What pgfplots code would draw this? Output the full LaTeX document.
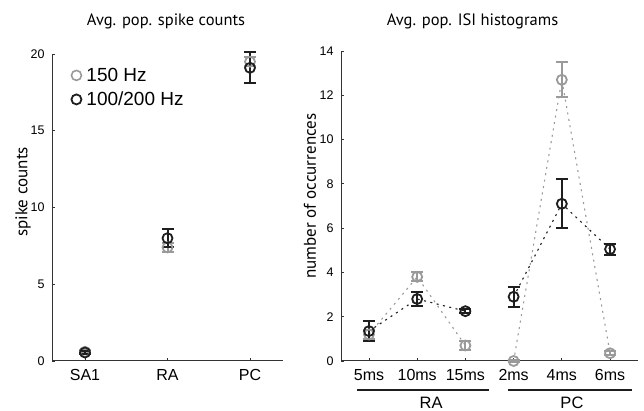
\documentclass[border=0pt]{standalone}
\usepackage{pgfplots}
\pgfplotsset{compat=1.18}
\usepackage{fontspec}
\setmainfont{Liberation Sans}
\newfontfamily\ptsans{PT Sans}
\definecolor{lgray}{HTML}{9A9A9A}
\definecolor{dblack}{HTML}{1E1E1E}
\definecolor{axc}{HTML}{333333}

\pgfplotstableread{
x y e
1 0.6 0.1
2 7.4 0.3
3 19.5 0.3
}\leftgray
\pgfplotstableread{
x y e
1 0.55 0.12
2 8.0 0.6
3 19.1 1.0
}\leftblack
\pgfplotstableread{
x y e
1 1.2 0.2
2 3.8 0.2
3 0.7 0.2
4 0.0 0.05
5 12.7 0.8
6 0.35 0.1
}\rightgray
\pgfplotstableread{
x y e
1 1.35 0.45
2 2.8 0.3
3 2.25 0.1
4 2.9 0.45
5 7.1 1.1
6 5.05 0.25
}\rightblack

\pgfplotsset{
  mystyle/.style={
    scale only axis, axis lines*=left, clip=false,
    axis line style={axc, line width=1pt},
    tick align=inside, major tick length=3pt,
    every tick/.style={axc, line width=0.8pt},
    /pgf/number format/assume math mode=true,
    yticklabel style={font=\fontsize{12.5}{14}\selectfont, xshift=-4pt},
    xticklabel style={font=\fontsize{16}{18}\selectfont, yshift=-5pt},
  },
  graypts/.style={forget plot, only marks, mark=o, mark size=5pt, color=lgray,
    mark options={lgray, line width=1.8pt},
    error bars/.cd, y dir=both, y explicit,
    error bar style={lgray, line width=2pt},
    error mark options={lgray, mark size=6pt, line width=2pt, rotate=90},
    /pgfplots/.cd},
  blackpts/.style={forget plot, only marks, mark=o, mark size=5pt, color=dblack,
    mark options={dblack, line width=1.8pt},
    error bars/.cd, y dir=both, y explicit,
    error bar style={dblack, line width=2pt},
    error mark options={dblack, mark size=6pt, line width=2pt, rotate=90},
    /pgfplots/.cd},
  dots/.style={forget plot, line width=1.1pt, dash pattern=on 2pt off 4.5pt},
}

\begin{document}
\begin{tikzpicture}[x=1pt,y=1pt]
\path[use as bounding box] (0,0) rectangle (644,411);

\begin{axis}[mystyle,
  at={(52pt,50pt)}, anchor=south west,
  width=231pt, height=307pt,
  xmin=0.6, xmax=3.4, ymin=0, ymax=20,
  xtick={1,2,3}, xticklabels={SA1,RA,PC},
  ytick={0,5,10,15,20},
  legend style={at={(0.066,0.968)}, anchor=north west, draw=none, fill=none,
    font=\fontsize{19}{22}\selectfont, row sep=5pt,
    legend cell align=left},
  legend image code/.code={\draw[mark repeat=2,mark phase=2] plot coordinates {(0pt,0pt)(6pt,0pt)(12pt,0pt)}; \path[draw=none,fill=none] (0pt,-0.1pt) rectangle (14pt,0.1pt);},
]
\addlegendimage{only marks, mark=o, mark size=5pt, lgray, mark options={line width=1.6pt}}
\addlegendentry{150 Hz}
\addlegendimage{only marks, mark=o, mark size=5pt, dblack, mark options={line width=1.8pt}}
\addlegendentry{100/200 Hz}
\addplot[graypts] table[x=x, y=y, y error=e] {\leftgray};
\addplot[blackpts] table[x=x, y=y, y error=e] {\leftblack};
\end{axis}

\begin{axis}[mystyle,
  at={(341pt,50pt)}, anchor=south west,
  width=297pt, height=310pt,
  xmin=0.42, xmax=6.58, ymin=0, ymax=14,
  xtick={1,2,3,4,5,6}, xticklabels={5ms,10ms,15ms,2ms,4ms,6ms},
  ytick={0,2,4,6,8,10,12,14},
]
\addplot[lgray, dots] coordinates {(1,1.2) (2,3.8) (3,0.7)};
\addplot[lgray, dots] coordinates {(4,0) (5,12.7) (6,0.35)};
\addplot[dblack, dots] coordinates {(1,1.35) (2,2.8) (3,2.25)};
\addplot[dblack, dots] coordinates {(4,2.9) (5,7.1) (6,5.05)};
\addplot[graypts] table[x=x, y=y, y error=e] {\rightgray};
\addplot[blackpts] table[x=x, y=y, y error=e] {\rightblack};
\draw[dblack, line width=2.7pt] (axis cs:0.75,-1.31) -- (axis cs:3.49,-1.31);
\draw[dblack, line width=2.7pt] (axis cs:3.88,-1.31) -- (axis cs:6.46,-1.31);
\node[font=\fontsize{16.5}{18}\selectfont] at (axis cs:2.29,-1.9) {RA};
\node[font=\fontsize{16.5}{18}\selectfont] at (axis cs:5.21,-1.9) {PC};
\end{axis}

\node[anchor=base, font=\ptsans\fontsize{16.5}{18}\selectfont] at (166,385) {Avg. pop. spike counts};
\node[anchor=base, font=\ptsans\fontsize{16.5}{18}\selectfont] at (472.5,385) {Avg. pop. ISI histograms};
\node[rotate=90, font=\ptsans\fontsize{17}{18}\selectfont] at (23,219) {spike counts};
\node[rotate=90, font=\ptsans\fontsize{17}{18}\selectfont] at (310,215) {number of occurrences};
\end{tikzpicture}
\end{document}
